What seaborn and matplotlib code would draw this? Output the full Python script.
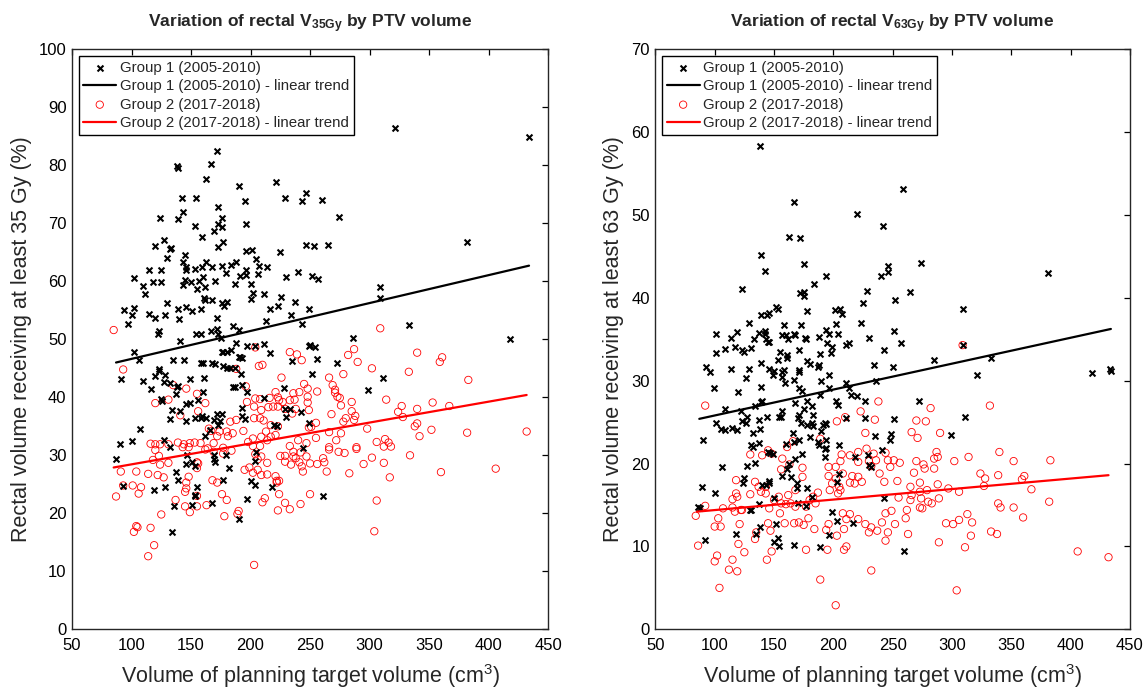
import numpy as np
import matplotlib
matplotlib.use("Agg")
import matplotlib.pyplot as plt
import seaborn as sns

# PTV volume (cm3) and rectal V35Gy (%), group 1 (2005-2010)
v35_g1 = [
    (172, 82.5), (167, 80.3), (138, 79.9), (139, 79.6), (163, 77.7), (221, 77.2), (190, 76.5), (247, 75.3),
    (243, 73.9), (142, 74.4), (154, 74.3), (195, 73.9), (229, 74.4), (173, 72.9), (143, 72.0), (124, 71.0),
    (139, 70.8), (176, 70.9), (173, 69.8), (176, 69.4), (153, 69.6), (196, 69.8), (169, 68.7), (159, 67.7),
    (127, 67.2), (120, 66.1), (132, 65.5), (133, 65.7), (173, 65.9), (177, 66.7), (247, 66.2), (130, 64.1),
    (145, 64.5), (196, 65.2), (201, 65.4), (225, 65.0), (205, 63.9), (143, 63.4), (146, 62.5), (146, 62.0),
    (163, 63.3), (159, 62.5), (153, 62.1), (168, 62.4), (176, 62.7), (184, 62.9), (188, 63.4), (115, 62.0),
    (125, 62.0), (196, 62.0), (207, 62.7), (214, 62.5), (179, 61.5), (191, 60.9), (206, 61.3), (196, 61.1),
    (240, 61.6), (230, 60.8), (102, 60.5), (110, 59.2), (111, 57.8), (118, 59.8), (125, 59.8), (143, 59.4),
    (145, 60.3), (150, 59.9), (157, 60.1), (160, 60.7), (170, 60.1), (155, 58.6), (162, 59.1), (187, 59.6),
    (200, 59.6), (202, 58.0), (211, 57.8), (200, 56.9), (226, 57.3), (223, 55.8), (237, 56.5), (216, 55.2),
    (94, 55.0), (100, 54.2), (102, 55.4), (115, 54.3), (120, 53.7), (130, 56.2), (128, 54.2), (139, 55.2),
    (140, 53.5), (146, 55.5), (151, 54.9), (158, 55.2), (162, 56.8), (168, 56.8), (161, 57.1), (172, 53.7),
    (176, 56.3), (180, 56.4), (178, 55.7), (97, 52.7), (123, 51.4), (122, 50.9), (154, 51.0), (158, 51.0),
    (167, 51.5), (172, 51.8), (173, 51.0), (175, 50.3), (185, 52.3), (190, 51.6), (213, 53.1), (234, 54.2),
    (243, 52.7), (249, 55.3), (141, 49.7), (102, 47.8), (106, 46.4), (135, 46.4), (144, 46.4), (158, 46.0),
    (160, 46.0), (168, 46.0), (176, 47.8), (177, 47.8), (180, 47.8), (184, 48.1), (188, 49.4), (190, 46.9),
    (191, 46.9), (193, 46.7), (197, 48.9), (204, 48.9), (211, 49.2), (216, 47.6), (235, 46.3), (249, 48.9),
    (123, 44.8), (170, 45.7), (177, 45.4), (180, 45.0), (183, 45.0), (187, 45.0),
    (91, 43.1), (110, 42.8), (116, 41.4), (120, 43.7), (123, 44.6), (128, 43.8), (127, 42.7), (132, 42.4),
    (138, 41.7), (139, 41.9), (137, 40.5), (149, 43.1), (161, 43.4), (160, 41.0), (149, 39.0), (146, 38.9),
    (156, 39.6), (125, 39.7), (126, 39.4), (134, 37.8), (141, 37.6), (132, 36.2), (146, 36.0), (153, 36.4),
    (159, 36.8), (158, 36.4), (163, 36.5), (166, 34.4), (162, 33.4), (172, 37.1), (176, 37.1), (174, 36.0),
    (173, 35.3), (169, 36.1), (193, 38.2), (193, 36.8), (195, 36.3), (197, 40.9), (193, 42.1), (187, 41.7),
    (185, 41.7), (192, 44.0), (211, 39.8), (220, 35.3), (222, 35.1), (229, 38.0), (233, 38.0), (230, 36.6),
    (228, 41.6), (242, 37.5), (249, 35.5), (87, 29.3), (90, 32.0), (100, 32.5), (107, 34.5), (127, 32.6),
    (132, 31.5), (147, 30.1), (146, 28.5), (151, 28.8), (153, 28.2), (169, 30.1), (169, 29.3), (170, 28.8),
    (179, 30.0), (182, 27.8), (204, 29.0), (205, 30.5), (244, 31.2), (93, 24.7), (119, 24.0), (128, 24.6),
    (137, 27.2), (139, 25.7), (155, 24.6), (153, 23.2), (153, 22.9), (151, 21.4), (168, 21.7), (177, 25.7),
    (200, 25.5), (204, 24.9), (197, 22.4), (218, 24.5), (136, 21.2), (190, 19.1), (134, 16.7),
    (321, 86.5), (434, 84.8), (260, 74.1), (274, 71.1), (265, 66.2), (253, 66.1), (252, 60.9), (257, 60.4),
    (382, 66.7), (309, 59.1), (309, 57.1), (333, 52.5), (418, 50.0), (286, 50.2), (250, 49.0), (254, 48.7),
    (256, 46.6), (273, 46.0), (252, 44.1), (311, 43.4), (299, 41.2), (261, 22.9),
]

# PTV volume (cm3) and rectal V35Gy (%), group 2 (2017-2018)
v35_g2 = [
    (85, 51.6), (93, 44.8), (204, 48.6), (207, 45.4), (210, 45.6), (188, 44.9), (233, 47.8), (239, 47.4),
    (243, 46.4), (226, 43.4), (245, 42.3), (248, 41.5), (146, 41.5), (155, 40.6), (135, 42.1), (131, 39.6),
    (120, 39.0), (141, 36.9), (156, 37.6), (162, 39.0), (196, 41.9), (204, 39.8), (203, 38.4), (208, 39.7),
    (209, 37.8), (216, 39.9), (215, 38.3), (219, 38.4), (221, 40.9), (223, 40.0), (224, 39.5), (227, 39.2),
    (229, 38.0), (233, 39.5), (236, 40.7), (241, 40.9), (248, 40.1), (237, 39.6), (238, 38.0), (235, 37.2),
    (223, 38.4), (248, 39.1), (249, 37.8), (197, 39.2), (203, 36.4), (208, 36.4), (211, 36.0), (217, 35.2),
    (223, 35.0), (213, 34.1), (217, 33.2), (194, 34.2), (198, 32.3), (202, 32.9), (209, 33.2), (214, 32.6),
    (221, 33.5), (183, 35.8), (181, 33.3), (174, 34.1), (172, 33.3), (167, 34.2), (165, 34.6), (188, 36.1),
    (185, 33.8), (184, 30.8), (180, 34.1), (177, 31.3), (177, 30.3), (169, 32.1), (169, 30.6), (164, 31.2),
    (162, 31.0), (158, 32.1), (153, 32.2), (149, 32.1), (144, 31.9), (139, 32.2), (143, 31.4), (148, 31.4),
    (131, 31.9), (124, 31.9), (120, 31.9), (116, 32.0), (120, 30.9), (118, 29.2), (123, 29.9), (131, 28.7),
    (124, 28.4), (122, 26.6), (127, 26.2), (114, 26.8), (104, 27.2), (91, 27.2), (87, 22.9), (93, 24.8),
    (101, 24.8), (106, 23.4), (108, 24.5), (125, 19.8), (137, 22.3), (145, 21.2), (145, 23.7), (149, 20.2),
    (155, 21.2), (155, 23.0), (156, 28.6), (155, 28.8), (155, 27.8), (146, 25.3), (148, 26.3), (146, 24.3),
    (163, 21.4), (168, 25.7), (172, 25.3), (176, 23.3), (180, 22.3), (178, 19.5), (190, 20.4), (189, 19.9),
    (195, 27.5), (199, 27.9), (202, 27.0), (206, 27.5), (209, 26.6), (214, 26.7), (221, 26.4), (222, 25.6),
    (224, 25.6), (209, 29.8), (214, 28.7), (204, 30.2), (202, 31.6), (208, 31.6), (206, 29.3), (225, 29.9),
    (229, 29.9), (229, 28.9), (234, 28.4), (236, 29.8), (238, 29.5), (242, 30.5), (243, 28.1), (244, 27.2),
    (241, 28.8), (247, 29.8), (250, 28.6), (233, 31.6), (236, 30.6), (240, 32.6), (247, 32.1), (224, 23.3),
    (222, 25.3), (212, 22.6), (210, 21.9), (223, 20.5), (229, 21.8), (233, 20.7), (242, 21.6), (250, 23.3),
    (203, 11.1), (102, 16.8), (105, 17.6), (116, 17.5), (119, 14.5), (114, 12.6), (104, 17.8),
    (383, 43.0), (333, 44.4), (278, 44.0), (266, 43.4), (269, 42.1), (271, 41.3), (271, 40.8), (273, 40.1),
    (275, 39.9), (285, 39.2), (276, 38.6), (285, 37.6), (288, 36.8), (287, 36.1), (278, 35.8), (280, 36.4),
    (268, 37.1), (298, 34.6), (314, 39.6), (327, 38.5), (324, 37.5), (328, 36.6), (340, 38.0), (353, 39.1),
    (367, 38.5), (338, 35.0), (340, 35.5), (352, 34.4), (342, 33.3), (382, 33.9), (432, 34.1), (306, 32.3),
    (313, 32.8), (312, 31.5), (316, 32.2), (318, 31.5), (289, 31.4), (289, 31.1), (279, 30.4), (274, 30.6),
    (266, 31.4), (266, 31.0), (272, 32.6), (276, 33.8), (266, 34.0), (255, 33.0), (255, 35.6), (251, 34.9),
    (249, 34.8), (256, 41.0), (302, 29.6), (295, 28.5), (312, 28.7), (283, 26.9), (317, 26.2), (334, 30.0),
    (360, 27.1), (406, 27.7), (262, 28.8), (264, 27.2), (261, 29.5), (256, 28.5), (306, 22.2), (304, 16.9),
    (309, 51.9), (287, 48.3), (282, 47.3), (290, 46.1), (302, 45.0), (340, 47.7), (361, 46.9), (359, 46.1),
]

# PTV volume (cm3) and rectal V63Gy (%), group 1 (2005-2010)
v63_g1 = [
    (138, 58.3), (167, 51.6), (220, 50.1), (242, 48.7), (163, 47.3), (172, 47.2), (139, 45.2), (142, 43.3),
    (175, 44.1), (194, 42.7), (246, 43.8), (246, 43.1), (240, 42.7), (184, 41.7), (123, 41.1), (172, 40.6),
    (175, 40.7), (175, 40.2), (228, 40.8), (225, 39.4), (252, 39.8), (152, 38.9), (153, 38.7), (139, 37.9),
    (144, 37.9), (146, 38.2), (178, 38.4), (201, 38.5), (206, 38.6), (207, 38.1), (129, 37.0), (158, 36.7),
    (173, 36.7), (202, 36.9), (223, 37.0), (101, 35.6), (119, 35.9), (137, 35.8), (142, 36.0), (142, 35.6),
    (157, 35.5), (160, 35.5), (167, 35.7), (168, 35.5), (194, 36.1), (196, 35.6), (204, 35.6), (114, 35.2),
    (133, 35.0), (143, 35.0), (145, 34.7), (146, 34.7), (162, 35.0), (176, 35.2), (177, 35.0), (188, 35.3),
    (195, 34.5), (199, 34.1), (211, 34.3), (213, 34.5), (230, 35.2), (251, 36.0), (101, 33.4), (109, 33.8),
    (117, 34.1), (123, 33.7), (125, 33.5), (131, 33.9), (155, 33.5), (161, 33.1), (161, 32.7), (171, 33.7),
    (189, 33.2), (198, 33.4), (243, 33.7), (93, 31.6), (114, 31.4), (129, 31.4), (139, 32.1), (146, 31.4),
    (153, 32.5), (158, 31.3), (171, 31.3), (178, 32.4), (180, 32.0), (188, 31.9), (187, 31.6), (234, 31.9),
    (250, 31.7),
    (96, 31.1), (99, 29.1), (120, 28.6), (126, 30.3), (139, 29.3), (140, 27.6), (139, 27.4), (149, 30.7),
    (150, 31.2), (157, 31.1), (157, 30.4), (159, 29.7), (167, 30.1), (171, 31.1), (171, 29.1), (174, 28.8),
    (175, 26.6), (178, 27.6), (182, 26.9), (183, 25.9), (168, 27.3), (171, 25.9), (170, 25.5), (173, 24.9),
    (178, 24.7), (190, 30.0), (196, 29.1), (196, 30.7), (189, 28.3), (182, 24.9), (183, 24.5), (191, 24.7),
    (193, 24.9), (194, 24.8), (190, 23.9), (211, 29.7), (213, 29.1), (215, 28.3), (220, 28.1), (227, 27.5),
    (202, 27.5), (204, 27.1), (211, 25.5), (227, 25.5), (235, 23.3), (249, 23.6), (251, 25.4), (236, 30.0),
    (109, 26.6), (122, 26.3), (127, 25.6), (123, 25.2), (126, 24.9), (134, 26.9), (137, 25.3), (144, 25.6),
    (154, 25.6), (156, 25.6), (157, 26.4), (101, 24.9), (105, 24.2), (109, 24.0), (115, 24.3), (119, 24.1),
    (132, 23.7), (138, 24.2), (90, 22.8), (131, 22.2), (132, 22.0), (134, 20.1), (137, 22.5), (145, 21.4),
    (147, 21.3), (149, 21.1), (160, 22.4), (167, 22.6), (171, 22.9), (166, 23.7), (180, 23.2), (187, 22.6),
    (188, 22.2), (194, 22.8), (193, 21.8), (194, 21.9), (193, 20.8), (205, 22.2), (174, 21.2), (168, 20.6),
    (163, 19.9), (161, 19.3), (157, 18.5), (164, 18.4), (169, 17.6), (127, 19.7), (125, 18.3), (124, 17.6),
    (106, 19.6), (89, 17.2), (100, 16.4), (86, 14.8), (88, 14.6), (140, 17.4), (143, 17.4), (146, 17.6),
    (146, 17.9), (150, 15.8), (137, 15.1), (130, 14.4), (131, 14.4), (169, 17.0), (170, 15.3), (178, 17.1),
    (177, 14.9), (182, 16.0), (199, 14.2), (203, 13.1), (205, 18.7), (203, 17.8), (218, 20.8), (229, 21.0),
    (230, 19.8), (232, 19.6), (217, 12.8), (243, 15.8), (138, 12.3), (135, 11.5), (118, 11.5), (152, 12.7),
    (153, 11.0), (150, 10.5), (154, 10.0), (167, 10.2), (189, 9.9), (196, 11.4), (92, 10.8),
    (259, 53.1), (274, 44.2), (381, 43.0), (265, 40.7), (309, 38.6), (257, 34.6), (309, 34.3), (285, 32.5),
    (333, 32.8), (433, 31.4), (321, 30.7), (418, 30.9), (434, 31.2), (272, 27.5), (311, 25.6), (299, 23.5),
    (248, 22.8), (241, 21.7), (260, 9.4),
]

# PTV volume (cm3) and rectal V63Gy (%), group 2 (2017-2018)
v63_g2 = [
    (92, 27.0), (238, 27.5), (223, 26.3), (235, 25.3), (227, 23.7), (203, 25.1), (210, 25.6), (189, 23.0),
    (130, 21.1), (140, 21.0), (145, 21.6), (148, 21.2), (161, 22.0), (157, 20.6), (163, 19.9), (166, 22.7),
    (174, 19.5), (156, 19.3), (196, 19.6), (202, 19.6), (206, 20.3), (208, 18.8), (216, 18.5), (221, 21.4),
    (228, 21.8), (234, 21.2), (244, 21.3), (236, 20.4), (246, 20.4), (248, 19.6), (251, 20.4), (239, 18.8),
    (243, 17.8), (207, 21.1), (214, 21.0), (221, 20.2), (230, 20.3), (232, 19.7), (221, 18.4), (224, 17.8),
    (218, 17.6), (214, 17.7), (202, 18.2), (196, 18.5), (205, 17.2), (199, 17.6), (197, 16.8), (204, 16.4),
    (206, 16.8), (118, 18.0), (134, 17.8), (118, 16.4), (130, 16.3), (119, 16.0), (115, 15.7), (115, 14.7),
    (107, 14.6), (122, 14.4), (123, 14.4), (117, 14.2), (137, 17.2), (139, 16.6), (143, 17.2), (143, 16.4),
    (150, 15.6), (154, 16.0), (155, 14.0), (160, 15.1), (164, 15.2), (156, 15.2), (146, 14.6), (162, 16.2),
    (168, 16.8), (174, 18.4), (180, 15.6), (183, 16.0), (187, 16.5), (185, 15.2), (177, 14.8), (168, 14.8),
    (84, 13.7), (92, 14.9), (100, 12.4), (105, 12.4), (103, 13.4), (121, 12.7), (135, 11.7), (145, 12.8),
    (147, 11.9), (134, 10.9), (159, 12.8), (167, 12.8), (171, 12.9), (175, 12.6), (179, 13.4), (184, 12.1),
    (194, 12.0), (196, 12.7), (203, 11.3), (209, 12.1), (208, 14.0), (211, 13.3), (214, 13.9), (221, 13.3),
    (227, 12.7), (232, 12.3), (230, 11.7), (237, 11.9), (244, 10.7), (246, 11.7), (252, 12.7), (244, 14.0),
    (241, 12.9), (249, 14.3), (86, 10.1), (100, 8.2), (102, 8.9), (115, 8.4), (112, 7.2), (119, 7.0),
    (120, 10.3), (125, 9.3), (144, 8.4), (148, 9.4), (177, 9.6), (195, 9.6), (209, 9.6), (211, 10.0),
    (104, 5.0), (189, 6.0), (202, 2.9), (232, 7.1),
    (309, 34.3), (282, 26.7), (332, 27.0), (270, 25.2), (278, 25.1), (266, 23.8), (271, 23.1), (290, 23.7),
    (287, 21.4), (285, 20.6), (288, 20.8), (314, 20.8), (302, 20.3), (340, 21.4), (352, 20.3), (383, 20.4),
    (256, 20.1), (270, 20.3), (276, 19.9), (277, 19.4), (285, 19.4), (268, 18.9), (273, 17.7), (288, 17.5),
    (297, 17.0), (306, 16.6), (324, 18.8), (328, 18.2), (327, 17.3), (339, 18.6), (361, 18.5), (359, 18.1),
    (367, 16.9), (265, 17.2), (266, 16.2), (265, 15.6), (273, 16.6), (279, 16.8), (274, 15.8), (280, 15.4),
    (283, 15.2), (289, 15.8), (275, 14.6), (273, 14.7), (262, 14.4), (261, 13.4), (263, 11.5), (289, 10.5),
    (295, 12.8), (301, 12.7), (306, 13.2), (313, 13.9), (317, 12.9), (316, 11.3), (311, 9.9), (333, 11.8),
    (338, 11.5), (339, 15.2), (341, 14.7), (352, 14.7), (360, 13.5), (382, 15.4), (406, 9.4), (432, 8.7),
    (304, 4.7), (254, 17.9), (255, 15.9),
]

# linear trend end points
trend_x_g1 = [87, 434]
trend_x_g2 = [85, 432]
trend_v35_g1 = [46.0, 62.7]
trend_v35_g2 = [27.9, 40.4]
trend_v63_g1 = [25.4, 36.25]
trend_v63_g2 = [14.2, 18.6]

labels = ["Group 1 (2005-2010)", "Group 1 (2005-2010) - linear trend",
          "Group 2 (2017-2018)", "Group 2 (2017-2018) - linear trend"]

sns.set_style("white")
plt.rcParams['font.family'] = ['Liberation Sans', 'DejaVu Sans']
plt.rcParams['mathtext.fontset'] = 'custom'
plt.rcParams['mathtext.rm'] = 'Liberation Sans'
plt.rcParams['mathtext.bf'] = 'Liberation Sans:bold'
plt.rcParams['mathtext.default'] = 'regular'

axcol = '#262626'
fig = plt.figure(figsize=(11.43, 6.91), dpi=100)
ax1 = fig.add_axes([0.063, 0.0893, 0.4165, 0.8393])
ax2 = fig.add_axes([0.5734, 0.0893, 0.4151, 0.8393])

panels = [
    (ax1, v35_g1, v35_g2, trend_v35_g1, trend_v35_g2, 100, "35"),
    (ax2, v63_g1, v63_g2, trend_v63_g1, trend_v63_g2, 70, "63"),
]

for ax, g1, g2, t1, t2, ymax, dose in panels:
    x1, y1 = zip(*g1)
    x2, y2 = zip(*g2)
    sns.scatterplot(x=list(x1), y=list(y1), ax=ax, marker='x', color='black',
                    s=18, linewidth=1.5, label=labels[0], zorder=3)
    sns.lineplot(x=trend_x_g1, y=t1, ax=ax, color='black', linewidth=1.6,
                 label=labels[1], zorder=4)
    sns.scatterplot(x=list(x2), y=list(y2), ax=ax, marker='o', color='red',
                    facecolor='none', edgecolor='red', s=28, linewidth=0.6,
                    label=labels[2], zorder=2)
    sns.lineplot(x=trend_x_g2, y=t2, ax=ax, color='red', linewidth=1.6,
                 label=labels[3], zorder=4)

    ax.set_xlim(50, 450)
    ax.set_ylim(0, ymax)
    ax.set_xticks(np.arange(50, 451, 50))
    ax.set_yticks(np.arange(0, ymax + 1, 10))
    ax.tick_params(direction='in', top=True, right=True, length=4.5, width=0.9,
                   labelsize=12, colors='black')
    ax.tick_params(axis='x', pad=6)
    ax.tick_params(axis='y', pad=4)
    for sp in ax.spines.values():
        sp.set_color(axcol)
        sp.set_linewidth(1.0)
    ax.set_title("Variation of rectal V$_{\\mathbf{" + dose + "Gy}}$ by PTV volume",
                 fontsize=12.5, fontweight='bold', pad=16)
    ax.set_xlabel("Volume of planning target volume (cm$^3$)", fontsize=15.5, labelpad=7)
    ax.set_ylabel("Rectal volume receiving at least " + dose + " Gy (%)", fontsize=15.5, labelpad=5)

    leg = ax.legend(loc='upper left', fontsize=10.8, frameon=True, fancybox=False,
                    framealpha=1, edgecolor='black', handlelength=2.2,
                    handletextpad=0.25, labelspacing=0.3, borderpad=0.3,
                    borderaxespad=0.45)
    leg.get_frame().set_linewidth(1.0)

fig.savefig("out.png", dpi=100)
